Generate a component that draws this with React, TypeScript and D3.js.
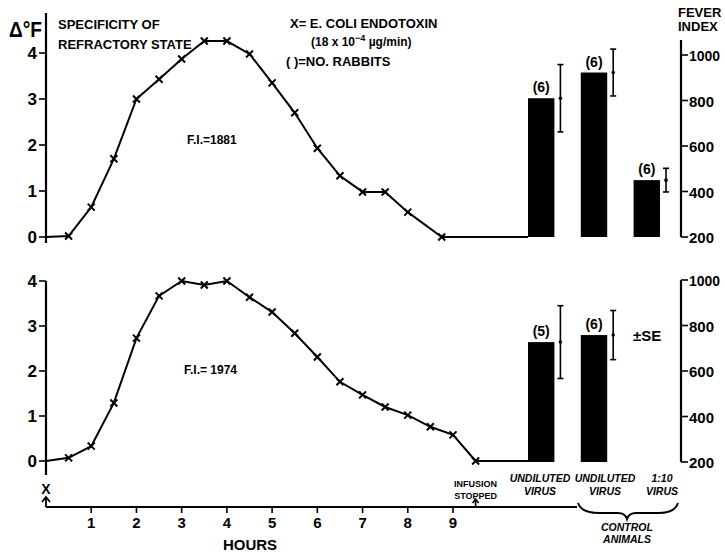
import React from 'react';
import * as d3 from 'd3';

// temperature curves (delta F) by hour
const topHours = [0, 0.5, 1, 1.5, 2, 2.5, 3, 3.5, 4, 4.5, 5, 5.5, 6, 6.5, 7, 7.5, 8, 8.75];
const topTemp = [0, 0.02, 0.65, 1.7, 3.0, 3.43, 3.87, 4.26, 4.26, 3.98, 3.35, 2.7, 1.93, 1.33, 0.98, 0.98, 0.54, 0];
const botHours = [0, 0.5, 1, 1.5, 2, 2.5, 3, 3.5, 4, 4.5, 5, 5.5, 6, 6.5, 7, 7.5, 8, 8.5, 9, 9.5];
const botTemp = [0, 0.07, 0.33, 1.29, 2.73, 3.67, 4.0, 3.91, 4.0, 3.64, 3.31, 2.84, 2.31, 1.76, 1.47, 1.2, 1.02, 0.76, 0.58, 0];

// fever index bars
const topBarN = ['(6)', '(6)', '(6)'];
const topBarFI = [810, 923, 450];
const topBarSE = [148, 103, 52];
const botBarN = ['(5)', '(6)'];
const botBarFI = [727, 758];
const botBarSE = [160, 108];

const hourTicks = [1, 2, 3, 4, 5, 6, 7, 8, 9];
const tempTicks = [0, 1, 2, 3, 4];
const fiTicks = [200, 400, 600, 800, 1000];

const FONT = '"Liberation Sans", Arial, sans-serif';

const x = d3.scaleLinear().domain([0, 9]).range([46, 453]);
const barX = d3.scaleBand<number>().domain([0, 1, 2]).range([528, 660]).paddingInner(0.5).paddingOuter(0);

function Cross({ cx, cy }: { cx: number; cy: number }) {
  const s = 3.5;
  return (
    <path d={`M${cx - s},${cy - s}L${cx + s},${cy + s}M${cx - s},${cy + s}L${cx + s},${cy - s}`} stroke="#000" strokeWidth={2} />
  );
}

function Panel({ hours, temp, y, fi, barN, barFI, barSE, axisTop, axisBottom, fiTop, fiLabel }: any) {
  const line = d3.line<number>().x((_, i) => x(hours[i])).y((d) => y(d));
  const last = hours.length - 1;
  const base = fi(200);
  return (
    <g>
      {/* left axis */}
      <line x1={46} x2={46} y1={axisTop} y2={axisBottom} stroke="#000" strokeWidth={2.2} />
      {tempTicks.map((t) => (
        <g key={t}>
          <line x1={39} x2={46} y1={y(t)} y2={y(t)} stroke="#000" strokeWidth={1.6} />
          <text x={37} y={y(t) + 6} textAnchor="end" fontSize={17} fontWeight="bold" fontFamily={FONT}>{t}</text>
        </g>
      ))}
      {/* curve */}
      <path d={line(temp) || ''} fill="none" stroke="#000" strokeWidth={2} />
      <line x1={x(hours[last])} x2={barX(0)} y1={y(0)} y2={y(0)} stroke="#000" strokeWidth={2} />
      {temp.map((d: number, i: number) => (i > 0 ? <Cross key={i} cx={x(hours[i])} cy={y(d)} /> : null))}
      {/* bars */}
      {barFI.map((v: number, i: number) => {
        const bx = barX(i)!;
        const bw = barX.bandwidth();
        const ex = bx + bw + 6;
        return (
          <g key={i}>
            <rect x={bx} y={fi(v)} width={bw} height={base - fi(v)} fill="#000" />
            <text x={bx + bw / 2} y={fi(v) - 6} textAnchor="middle" fontSize={14} fontWeight="bold" fontFamily={FONT}>{barN[i]}</text>
            <line x1={ex} x2={ex} y1={fi(v + barSE[i])} y2={fi(v - barSE[i])} stroke="#000" strokeWidth={1.6} />
            <line x1={ex - 3} x2={ex + 3} y1={fi(v + barSE[i])} y2={fi(v + barSE[i])} stroke="#000" strokeWidth={1.6} />
            <line x1={ex - 3} x2={ex + 3} y1={fi(v - barSE[i])} y2={fi(v - barSE[i])} stroke="#000" strokeWidth={1.6} />
            <circle cx={ex} cy={fi(v)} r={1.8} fill="#000" />
          </g>
        );
      })}
      {/* right axis */}
      <line x1={681} x2={681} y1={fiTop} y2={base} stroke="#000" strokeWidth={2.2} />
      {fiTicks.map((t) => (
        <g key={t}>
          <line x1={681} x2={688} y1={fi(t)} y2={fi(t)} stroke="#000" strokeWidth={1.6} />
          <text x={689} y={fi(t) + 6} fontSize={15} fontWeight="bold" fontFamily={FONT}
            textLength={t >= 1000 ? 31 : 25} lengthAdjust="spacingAndGlyphs">{t}</text>
        </g>
      ))}
      <text x={fiLabel.x} y={fiLabel.y} fontSize={12} fontWeight="bold" fontFamily={FONT}>{fiLabel.text}</text>
    </g>
  );
}

export default function App() {
  const yTop = d3.scaleLinear().domain([0, 4]).range([237, 53]);
  const fiTop = d3.scaleLinear().domain([200, 1000]).range([237, 55]);
  const yBot = d3.scaleLinear().domain([0, 4]).range([461, 281]);
  const fiBot = d3.scaleLinear().domain([200, 1000]).range([462, 280]);
  const axisY = 507;
  const small = { fontSize: 11, fontWeight: 'bold' as const, fontFamily: FONT };
  const ital = { fontSize: 10.5, fontWeight: 'bold' as const, fontStyle: 'italic', fontFamily: FONT, textAnchor: 'middle' as const };
  return (
    <svg width={725} height={554} style={{ position: 'absolute', left: 0, top: 0, background: '#fff' }}>
      <Panel hours={topHours} temp={topTemp} y={yTop} fi={fiTop} barN={topBarN} barFI={topBarFI} barSE={topBarSE}
        axisTop={13} axisBottom={243} fiTop={40} fiLabel={{ x: 187, y: 144, text: 'F.I.=1881' }} />
      <Panel hours={botHours} temp={botTemp} y={yBot} fi={fiBot} barN={botBarN} barFI={botBarFI} barSE={botBarSE}
        axisTop={281} axisBottom={475} fiTop={280} fiLabel={{ x: 184, y: 374, text: 'F.I.= 1974' }} />

      {/* titles */}
      <text x={9} y={37} fontSize={22} fontWeight="bold" fontFamily={FONT} textLength={33} lengthAdjust="spacingAndGlyphs">Δ°F</text>
      <text x={58} y={29} fontSize={13} fontWeight="bold" fontFamily={FONT}>SPECIFICITY OF</text>
      <text x={58} y={49} fontSize={13} fontWeight="bold" fontFamily={FONT}>REFRACTORY STATE</text>
      <text x={290} y={28} fontSize={13} fontWeight="bold" fontFamily={FONT}>X= E. COLI ENDOTOXIN</text>
      <text x={311} y={46} fontSize={12} fontWeight="bold" fontFamily={FONT}>
        (18 x 10<tspan dy={-5} fontSize={9}>−4</tspan><tspan dy={5}> µg/min)</tspan>
      </text>
      <text x={286} y={66} fontSize={13} fontWeight="bold" fontFamily={FONT}>( )=NO. RABBITS</text>
      <text x={678} y={17} fontSize={13} fontWeight="bold" fontFamily={FONT}>FEVER</text>
      <text x={678} y={31} fontSize={13} fontWeight="bold" fontFamily={FONT}>INDEX</text>
      <text x={633} y={341} fontSize={15} fontWeight="bold" fontFamily={FONT}>±SE</text>

      {/* hours axis */}
      <line x1={46} x2={577} y1={axisY} y2={axisY} stroke="#000" strokeWidth={2.2} />
      {hourTicks.map((h) => (
        <g key={h}>
          <line x1={x(h)} x2={x(h)} y1={axisY} y2={axisY + 6} stroke="#000" strokeWidth={1.6} />
          <text x={x(h)} y={528} textAnchor="middle" fontSize={15} fontWeight="bold" fontFamily={FONT}>{h}</text>
        </g>
      ))}
      <text x={250} y={550} textAnchor="middle" fontSize={15} fontWeight="bold" fontFamily={FONT}>HOURS</text>
      <text x={46} y={494} textAnchor="middle" {...small} fontSize={14}>X</text>
      <path d={`M46,${axisY}V498M42,502L46,497L50,502`} fill="none" stroke="#000" strokeWidth={1.8} />
      <text x={x(9.5)} y={487} textAnchor="middle" {...small} fontSize={9}>INFUSION</text>
      <text x={x(9.5)} y={499} textAnchor="middle" {...small} fontSize={9}>STOPPED</text>
      <path d={`M${x(9.5)},${axisY}V500M${x(9.5) - 3},503L${x(9.5)},499L${x(9.5) + 3},503`} fill="none" stroke="#000" strokeWidth={1.6} />

      {/* category labels */}
      <text x={540} y={482} {...ital}>UNDILUTED</text>
      <text x={540} y={495} {...ital}>VIRUS</text>
      <text x={605} y={482} {...ital}>UNDILUTED</text>
      <text x={605} y={495} {...ital}>VIRUS</text>
      <text x={662} y={482} {...ital}>1:10</text>
      <text x={662} y={495} {...ital}>VIRUS</text>
      <path d="M578,503 Q581,513 600,513 L618,513 Q625,513 627,519 Q629,513 636,513 L658,513 Q675,513 678,503" fill="none" stroke="#000" strokeWidth={2} />
      <text x={627} y={531} {...ital}>CONTROL</text>
      <text x={627} y={543} {...ital}>ANIMALS</text>
    </svg>
  );
}
